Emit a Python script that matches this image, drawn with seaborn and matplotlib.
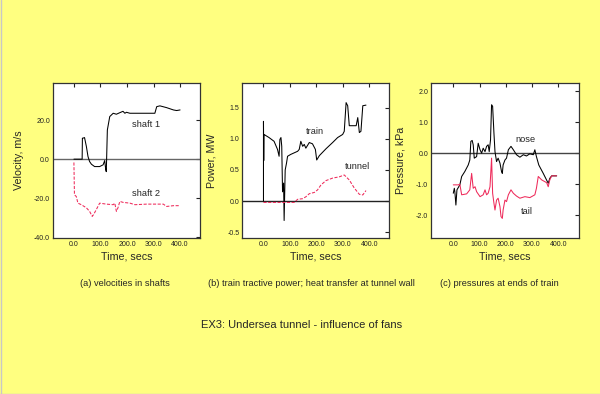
import matplotlib
matplotlib.use("Agg")
import matplotlib.pyplot as plt
from matplotlib.lines import Line2D
from matplotlib.ticker import FormatStrFormatter
import seaborn as sns
import pandas as pd

# (a) velocities in shafts
shaft1_t = [0, 31, 32, 34, 40, 47, 53, 59, 66, 78, 97, 110, 116, 120, 122, 126, 135, 148,
            160, 173, 185, 192, 198, 211, 236, 274, 305, 312, 324, 349, 375, 387, 400]
shaft1_v = [0, 0, 10.8, 10.8, 11.1, 6.5, 1.4, -1.2, -2.6, -3.8, -3.8, -2.9, -0.7, -5.5, -6.4, 15.0,
            21.9, 23.6, 23.1, 23.9, 24.6, 23.6, 24.1, 23.6, 23.6, 23.6, 23.6, 27.0, 27.4, 26.5,
            25.3, 25.0, 25.3]
shaft2_t = [0, 2, 9, 15, 28, 47, 59, 69, 74, 84, 97, 122, 148, 154, 160, 166, 173, 185, 211,
            230, 274, 337, 349, 375, 400]
shaft2_v = [-1.7, -18.3, -19.2, -22.6, -23.4, -25.0, -26.8, -29.4, -28.5, -26.0, -22.6, -23.1,
            -23.4, -22.6, -26.8, -25.0, -21.7, -22.2, -22.6, -23.4, -23.1, -23.1, -24.3, -23.9, -23.9]

# (b) train tractive power, heat transfer at tunnel wall
train_t = [0, 0, 1, 2, 21, 40, 53, 59, 62, 66, 69, 72, 76, 78, 82, 87, 91, 103, 129, 135, 141,
           148, 154, 160, 173, 185, 196, 201, 211, 236, 261, 280, 299, 305, 312, 318, 324, 350,
           356, 362, 368, 375, 387]
train_p = [0, 1.28, 0.65, 1.07, 1.02, 0.96, 0.83, 0.72, 0.99, 1.02, 0.88, 0.15, 0.29, -0.31, 0.5,
           0.61, 0.72, 0.75, 0.80, 0.83, 0.96, 0.88, 0.91, 0.85, 0.94, 0.92, 0.83, 0.66, 0.73,
           0.84, 0.94, 1.02, 1.07, 1.12, 1.58, 1.53, 1.21, 1.21, 1.34, 1.10, 1.12, 1.53, 1.54]
tunnel_t = [0, 116, 129, 148, 160, 173, 192, 204, 217, 236, 261, 286, 305, 324, 343, 362, 375, 387]
tunnel_p = [-0.02, -0.02, 0.03, 0.04, 0.07, 0.12, 0.14, 0.18, 0.26, 0.33, 0.37, 0.39, 0.42, 0.34,
            0.21, 0.11, 0.10, 0.17]

# (c) pressures at ends of train
nose_t = [0, 4, 6, 10, 14, 25, 32, 44, 57, 63, 67, 72, 76, 80, 89, 95, 102, 108, 114, 121, 127,
          133, 137, 142, 146, 150, 155, 159, 165, 171, 178, 184, 187, 190, 197, 203, 210, 220,
          229, 241, 254, 267, 279, 292, 305, 311, 317, 326, 343, 362, 368, 375, 394]
nose_p = [-1.29, -1.13, -1.24, -1.67, -1.18, -1.02, -0.75, -0.59, -0.38, -0.22, 0.38, 0.41, 0.27,
          -0.16, -0.11, 0.32, 0.11, 0.0, 0.16, 0.05, 0.22, 0.27, 0.05, 0.43, 1.56, 1.51, 0.65,
          0.05, -0.27, -0.16, -0.32, -0.59, -0.65, -0.38, -0.22, -0.16, 0.11, 0.22, 0.11, -0.05,
          -0.13, -0.05, -0.09, -0.02, -0.05, 0.11, -0.11, -0.38, -0.65, -0.97, -0.81, -0.73, -0.73]
tail_t = [0, 19, 25, 32, 51, 63, 70, 76, 83, 89, 102, 114, 121, 127, 133, 140, 146, 150, 155,
          159, 165, 171, 178, 182, 187, 190, 197, 203, 210, 220, 229, 241, 254, 273, 292, 311,
          317, 324, 337, 356, 362, 368, 375, 394]
tail_p = [-1.02, -1.02, -1.0, -1.34, -1.31, -1.18, -0.65, -1.13, -1.08, -1.24, -1.40, -1.34,
          -1.18, -1.34, -1.29, -1.08, -0.16, -1.29, -1.61, -1.83, -1.51, -1.45, -1.72, -2.04,
          -2.10, -1.83, -1.51, -1.56, -1.34, -1.18, -1.29, -1.38, -1.45, -1.40, -1.43, -1.34,
          -1.13, -0.75, -0.86, -0.95, -1.08, -0.86, -0.73, -0.73]

x_ticks = [0, 100, 200, 300, 400]
bg = "#ffff80"
red = "#ee2a5a"

sns.set_style("white")
plt.rcParams["font.family"] = ["Liberation Sans", "DejaVu Sans"]

fig = plt.figure(figsize=(6, 3.94), dpi=100, facecolor=bg)


def line(ax, t, v, **kw):
    df = pd.DataFrame({"t": t, "v": v})
    sns.lineplot(data=df, x="t", y="v", ax=ax, estimator=None, sort=False, lw=0.75, **kw)


def style(ax, xlim, ylim, yticks, ylabel, ylab_x, zero_color):
    ax.set_facecolor("white")
    ax.set_xlim(*xlim)
    ax.set_ylim(*ylim)
    ax.set_xticks(x_ticks)
    ax.set_yticks(yticks)
    ax.xaxis.set_major_formatter(FormatStrFormatter("%.1f"))
    ax.yaxis.set_major_formatter(FormatStrFormatter("%.1f"))
    ax.tick_params(direction="in", top=True, right=True, length=3, width=0.8,
                   labelsize=5, pad=2, colors="#222222")
    for s in ax.spines.values():
        s.set_color("#333333")
        s.set_linewidth(0.9)
    ax.set_xlabel("Time, secs", fontsize=7.7)
    ax.set_ylabel(ylabel, fontsize=7.7)
    ax.xaxis.set_label_coords(0.5, -0.085)
    ax.yaxis.set_label_coords(ylab_x, 0.5)
    ax.axhline(0, color=zero_color, lw=1.0, zorder=1)


ax1 = fig.add_axes([0.0878, 0.396, 0.2455, 0.3926])
ax2 = fig.add_axes([0.4038, 0.396, 0.245, 0.3926])
ax3 = fig.add_axes([0.7183, 0.396, 0.247, 0.3926])

line(ax1, shaft1_t, shaft1_v, color="black")
line(ax1, shaft2_t, shaft2_v, color=red, dashes=(3, 1.5))
style(ax1, (-80, 475), (-40.5, 39), [-40, -20, 0, 20], "Velocity, m/s", -0.195, "#666666")
ax1.text(273, 17.6, "shaft 1", fontsize=6.7, ha="center", va="center")
ax1.text(273, -17.8, "shaft 2", fontsize=6.7, ha="center", va="center")

line(ax2, train_t, train_p, color="black")
line(ax2, tunnel_t, tunnel_p, color=red, dashes=(3, 1.5))
style(ax2, (-80, 475), (-0.59, 1.89), [-0.5, 0, 0.5, 1.0, 1.5], "Power, MW", -0.172, "#222222")
ax2.text(194, 1.11, "train", fontsize=6.7, ha="center", va="center")
ax2.text(355, 0.55, "tunnel", fontsize=6.7, ha="center", va="center")

line(ax3, nose_t, nose_p, color="black")
line(ax3, tail_t, tail_p, color=red)
style(ax3, (-85, 480), (-2.73, 2.25), [-2, -1, 0, 1, 2], "Pressure, kPa", -0.175, "#444444")
ax3.text(277, 0.45, "nose", fontsize=6.7, ha="center", va="center")
ax3.text(280, -1.88, "tail", fontsize=6.7, ha="center", va="center")

fig.text(0.209, 0.2817, "(a) velocities in shafts", fontsize=6.7, ha="center", va="center")
fig.text(0.5195, 0.2817, "(b) train tractive power; heat transfer at tunnel wall",
         fontsize=6.7, ha="center", va="center")
fig.text(0.832, 0.2817, "(c) pressures at ends of train", fontsize=6.7, ha="center", va="center")
fig.text(0.503, 0.175, "EX3: Undersea tunnel - influence of fans", fontsize=8.0,
         ha="center", va="center")

# thin grey frame on left and bottom edges
fig.add_artist(Line2D([0.001, 0.001], [0, 1], color="#c8c8c8", lw=1, transform=fig.transFigure))
fig.add_artist(Line2D([0, 1], [0.001, 0.001], color="#c8c8c8", lw=1, transform=fig.transFigure))

fig.savefig("out.png", dpi=100, facecolor=bg)
